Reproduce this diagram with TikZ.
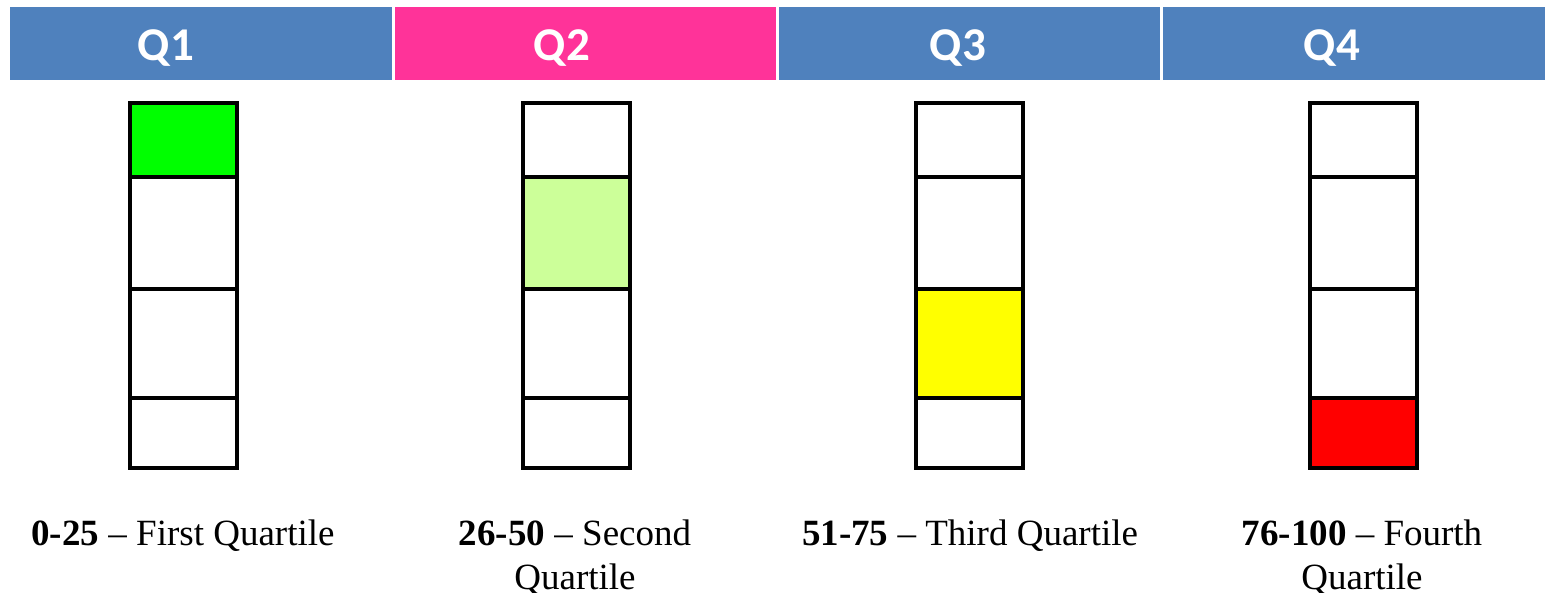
\documentclass[tikz,border=0pt]{standalone}
\usepackage{fontspec}
\setmainfont{Liberation Serif}
\newfontfamily\headfont{Carlito}
\definecolor{headblue}{HTML}{4F81BD}
\definecolor{headpink}{HTML}{FF3399}
\definecolor{cellgreen}{HTML}{00FF00}
\definecolor{celllime}{HTML}{CCFF99}
\definecolor{cellyellow}{HTML}{FFFF00}
\definecolor{cellred}{HTML}{FF0000}
\tikzset{
  headbox/.style={inner sep=0pt, minimum height=36.5pt},
  headtext/.style={anchor=base, inner sep=0pt, text=white,
    font=\headfont\bfseries\fontsize{23.5}{28}\selectfont},
  quartlabel/.style={anchor=north, align=center, inner sep=0pt,
    font=\fontsize{18.5}{22}\selectfont},
  barline/.style={line width=2pt},
  divider/.style={line width=1.6pt}
}
\begin{document}
\begin{tikzpicture}[x=0.5pt,y=-0.5pt]
      \useasboundingbox (0,0) rectangle (1545,593);
      % header row
      \node[headbox, fill=headblue, minimum width=191pt] (h1) at (201,43.5) {};
      \node[headbox, fill=headpink, minimum width=190.5pt] (h2) at (585.5,43.5) {};
      \node[headbox, fill=headblue, minimum width=190.5pt] (h3) at (969.5,43.5) {};
      \node[headbox, fill=headblue, minimum width=191pt] (h4) at (1354,43.5) {};
      \node[headtext] (q1) at (166,61) {Q1};
      \node[headtext] (q2) at (562,61) {Q2};
      \node[headtext] (q3) at (958,61) {Q3};
      \node[headtext] (q4) at (1332,61) {Q4};
      % bars
      \foreach \bx/\ft/\fb/\col in {130/103/177/cellgreen,523/177/289/celllime,916/289/398/cellyellow,1310/398/468/cellred}{
        \fill[\col] (\bx,\ft) rectangle (\bx+107,\fb);
        \draw[divider] (\bx,177) -- (\bx+107,177);
        \draw[divider] (\bx,289) -- (\bx+107,289);
        \draw[divider] (\bx,398) -- (\bx+107,398);
        \draw[barline] (\bx,103) rectangle (\bx+107,468);
      }
      % labels
      \node[quartlabel] (l1) at (183,519) {\textbf{0-25} -- First Quartile};
      \node[quartlabel] (l2) at (575,519) {\textbf{26-50} -- Second\\Quartile};
      \node[quartlabel] (l3) at (970,519) {\textbf{51-75} -- Third Quartile};
      \node[quartlabel] (l4) at (1362,519) {\textbf{76-100} -- Fourth\\Quartile};
    \end{tikzpicture}
\end{document}
